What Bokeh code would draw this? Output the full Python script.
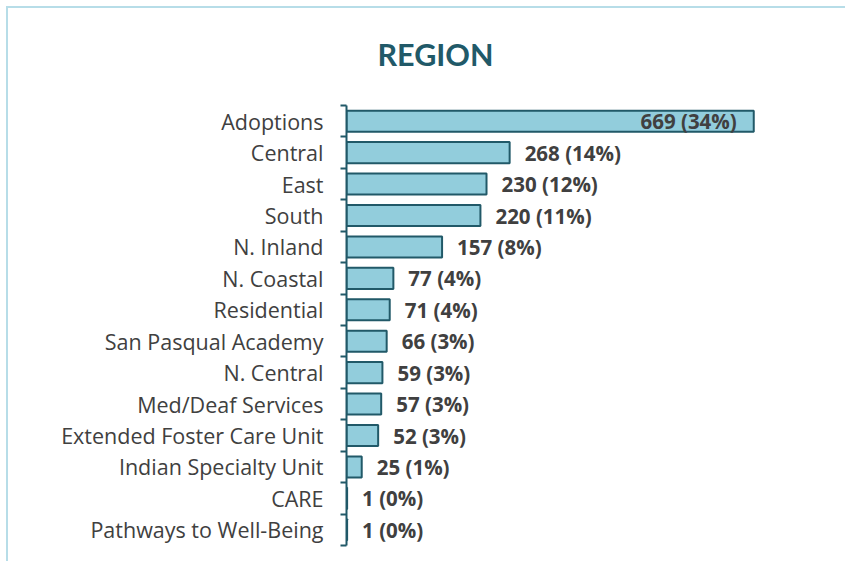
from bokeh.plotting import figure
from bokeh.models import Range1d, FixedTicker, ColumnDataSource
from bokeh.core.properties import value
from bokeh.embed import file_html
from bokeh.resources import INLINE

categories = ["Adoptions", "Central", "East", "South", "N. Inland", "N. Coastal",
              "Residential", "San Pasqual Academy", "N. Central", "Med/Deaf Services",
              "Extended Foster Care Unit", "Indian Specialty Unit", "CARE",
              "Pathways to Well-Being"]
counts = [669, 268, 230, 220, 157, 77, 71, 66, 59, 57, 52, 25, 1, 1]
percents = [34, 14, 12, 11, 8, 4, 4, 3, 3, 3, 3, 1, 0, 0]
title_text = "REGION"

n = len(categories)
centers = [i + 0.5 for i in range(n)]
labels = [f"{c} ({p}%)" for c, p in zip(counts, percents)]
inside = [c == max(counts) for c in counts]

TEXT = "#404040"
TEAL = "#215968"
FILL = "#92CDDC"
BORDER = "#B7DDE8"

W, H = 845, 561
p = figure(width=W, height=H, output_backend="svg", toolbar_location=None,
           x_range=Range1d(0, 800), y_range=Range1d(n, 0),
           min_border_left=346, min_border_right=12, min_border_top=105,
           min_border_bottom=16)
p.border_fill_color = None
p.background_fill_color = None
p.styles = {
    "background": (f"linear-gradient({BORDER},{BORDER}) 7px 6px / calc(100% - 7px) 2px no-repeat, "
                   f"linear-gradient({BORDER},{BORDER}) 6px 6px / 2px calc(100% - 6px) no-repeat, white"),
}
p.outline_line_color = None
p.grid.visible = False
p.xaxis.visible = False

p.title.text = title_text
p.title.align = "left"
p.title.offset = 31
p.title.standoff = 67
p.title.text_font = "Lato"
p.title.text_font_style = "bold"
p.title.text_font_size = "30.5px"
p.title.text_color = TEAL

src = ColumnDataSource(dict(
    y=centers, right=counts, label=labels,
    xoff=[-17 if f else 15 for f in inside],
    align=["right" if f else "left" for f in inside],
))
p.hbar(y="y", right="right", left=0, height=0.67, source=src,
       fill_color=FILL, line_color=TEAL, line_width=2)
p.text(x="right", y="y", text="label", x_offset="xoff", text_align="align",
       text_baseline="middle", source=src, text_color=TEXT,
       text_font=value("Open Sans"), text_font_style="bold", text_font_size="20.5px")

ax = p.yaxis[0]
ax.ticker = FixedTicker(ticks=centers, minor_ticks=list(range(n + 1)))
ax.major_label_overrides = {c: name for c, name in zip(centers, categories)}
ax.major_tick_line_color = None
ax.major_tick_out = 0
ax.major_tick_in = 0
ax.minor_tick_out = 6
ax.minor_tick_in = 0
ax.minor_tick_line_color = TEAL
ax.minor_tick_line_width = 2
ax.axis_line_color = TEAL
ax.axis_line_width = 2
ax.major_label_standoff = 17
ax.major_label_text_font = "Open Sans"
ax.major_label_text_font_size = "21.5px"
ax.major_label_text_color = TEXT

open("out.html", "w").write(file_html(p, INLINE))
